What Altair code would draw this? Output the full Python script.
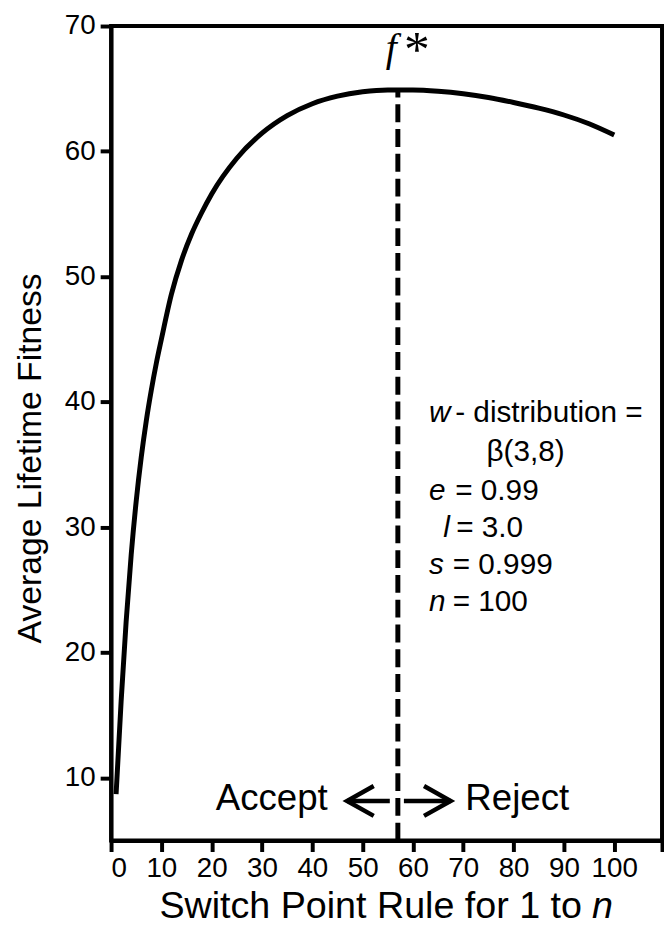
import altair as alt
import pandas as pd

# ---- data ----
switch_point = [1, 2, 3, 4, 5, 6, 7, 8, 9, 10, 12, 14, 16, 18, 20, 25, 30, 35, 40, 45, 50,
                55, 60, 65, 70, 75, 80, 85, 90, 95, 100]
fitness = [8.7, 16.1, 22.5, 27.8, 32.1, 35.6, 38.5, 40.95, 43.1, 45.0, 48.6, 51.3, 53.4,
           55.1, 56.6, 59.45, 61.45, 62.85, 63.8, 64.4, 64.75, 64.9, 64.9, 64.8, 64.6,
           64.3, 63.9, 63.45, 62.9, 62.2, 61.3]

f_star = 57
f_star_fitness = 64.9

x_ticks = [0, 10, 20, 30, 40, 50, 60, 70, 80, 90, 100, 109.5]
y_ticks = [10, 20, 30, 40, 50, 60, 70]

# parameter annotation (italic symbol, rest of line)
param_sym = ["w", "e", "l", "s", "n"]
param_sym_x = [63.2, 63.2, 66.0, 63.2, 63.2]
param_rest = ["- distribution =", "= 0.99", "= 3.0", "= 0.999", "= 100"]
param_rest_x = [68.4, 68.4, 68.6, 67.9, 67.9]
param_y = [38.4, 32.2, 29.2, 26.3, 23.3]
beta_label = ["β(3,8)"]
beta_x = [74.6]
beta_y = [35.3]

# accept / reject arrows (shaft, chevron head)
arrow_x = [55.4, 46.9, 52.2, 46.9, 52.2, 58.2, 67.5, 62.2, 67.5, 62.2]
arrow_y = [8.16, 8.16, 9.35, 8.16, 6.97, 8.16, 8.16, 9.35, 8.16, 6.97]
arrow_grp = ["ls", "ls", "la", "la", "la", "rs", "rs", "ra", "ra", "ra"]
arrow_ord = [0, 1, 0, 1, 2, 0, 1, 0, 1, 2]

accept_reject = ["Accept", "Reject"]
accept_reject_x = [20.8, 70.4]
accept_reject_y = [7.45, 7.45]

x_title = ["Switch Point Rule for 1 to"]
x_title_n = ["n"]
y_title = ["Average Lifetime Fitness"]

# ---- tables ----
curve_df = pd.DataFrame({"x": switch_point, "y": fitness})
rule_df = pd.DataFrame({"x": [f_star], "y": [5], "y2": [f_star_fitness]})
arrow_df = pd.DataFrame({"x": arrow_x, "y": arrow_y, "g": arrow_grp, "o": arrow_ord})
sym_df = pd.DataFrame({"x": param_sym_x, "y": param_y, "t": param_sym})
rest_df = pd.DataFrame({"x": param_rest_x, "y": param_y, "t": param_rest})
beta_df = pd.DataFrame({"x": beta_x, "y": beta_y, "t": beta_label})
ar_df = pd.DataFrame({"x": accept_reject_x, "y": accept_reject_y, "t": accept_reject})
f_df = pd.DataFrame({"x": [54.6], "y": [67.2], "t": ["f"]})
star_df = pd.DataFrame({"x": [58.2], "y": [66.8], "t": ["*"]})
xt_df = pd.DataFrame({"x": [93.6], "y": [-1.17], "t": x_title})
xn_df = pd.DataFrame({"x": [95.6], "y": [-1.17], "t": x_title_n})
yt_df = pd.DataFrame({"x": [-14.0], "y": [35.5], "t": y_title})

FONT = "Liberation Sans"
SERIF = "Liberation Serif"

xscale = alt.Scale(domain=[0, 109.5], nice=False, zero=False)
yscale = alt.Scale(domain=[5, 70], nice=False, zero=False)
xaxis = alt.Axis(values=x_ticks, labelExpr="datum.value > 105 ? '' : datum.label",
                 title=None, grid=False, tickSize=11, labelPadding=3)
yaxis = alt.Axis(values=y_ticks, title=None, grid=False, tickSize=11, labelPadding=5)


def X():
    return alt.X("x:Q", scale=xscale, axis=xaxis)


def Y():
    return alt.Y("y:Q", scale=yscale, axis=yaxis)


curve = alt.Chart(curve_df).mark_line(
    color="black", strokeWidth=5, interpolate="monotone"
).encode(x=X(), y=Y())

rule = alt.Chart(rule_df).mark_rule(
    color="black", strokeWidth=5, strokeDash=[18, 7]
).encode(x=X(), y=Y(), y2=alt.Y2("y2:Q"))

arrows = alt.Chart(arrow_df).mark_line(
    color="black", strokeWidth=4.5, strokeJoin="miter"
).encode(x=X(), y=Y(), detail="g:N", order="o:Q")


def text_layer(df, align="left", font=FONT, size=28, style="normal", angle=0):
    mk = dict(align=align, baseline="alphabetic", font=font, fontSize=size,
              fontStyle=style, color="black")
    if angle:
        mk["angle"] = angle
    return alt.Chart(df).mark_text(**mk).encode(x=X(), y=Y(), text="t:N")


sym_text = text_layer(sym_df, style="italic", size=30)
rest_text = text_layer(rest_df, size=30)
beta_text = text_layer(beta_df, size=30)
ar_text = text_layer(ar_df, size=37)
f_text = text_layer(f_df, font=SERIF, size=40, style="italic")
star_text = text_layer(star_df, font=SERIF, size=52)
xt_text = text_layer(xt_df, align="right", size=38)
xn_text = text_layer(xn_df, size=38, style="italic")
yt_text = text_layer(yt_df, align="center", size=34, angle=270)

chart = alt.layer(
    curve, rule, arrows, sym_text, rest_text, beta_text, ar_text,
    f_text, star_text, xt_text, xn_text, yt_text
).properties(
    width=556, height=822,
    autosize=alt.AutoSizeParams(type="none"),
    padding={"left": 104, "top": 14, "right": 2, "bottom": 82},
).configure_view(
    stroke="black", strokeWidth=4
).configure_axis(
    labelFont=FONT, labelFontSize=28, labelColor="black",
    domainColor="black", domainWidth=4, tickColor="black", tickWidth=4,
)

chart.save("out.html", embed_options={"renderer": "svg", "actions": False})
